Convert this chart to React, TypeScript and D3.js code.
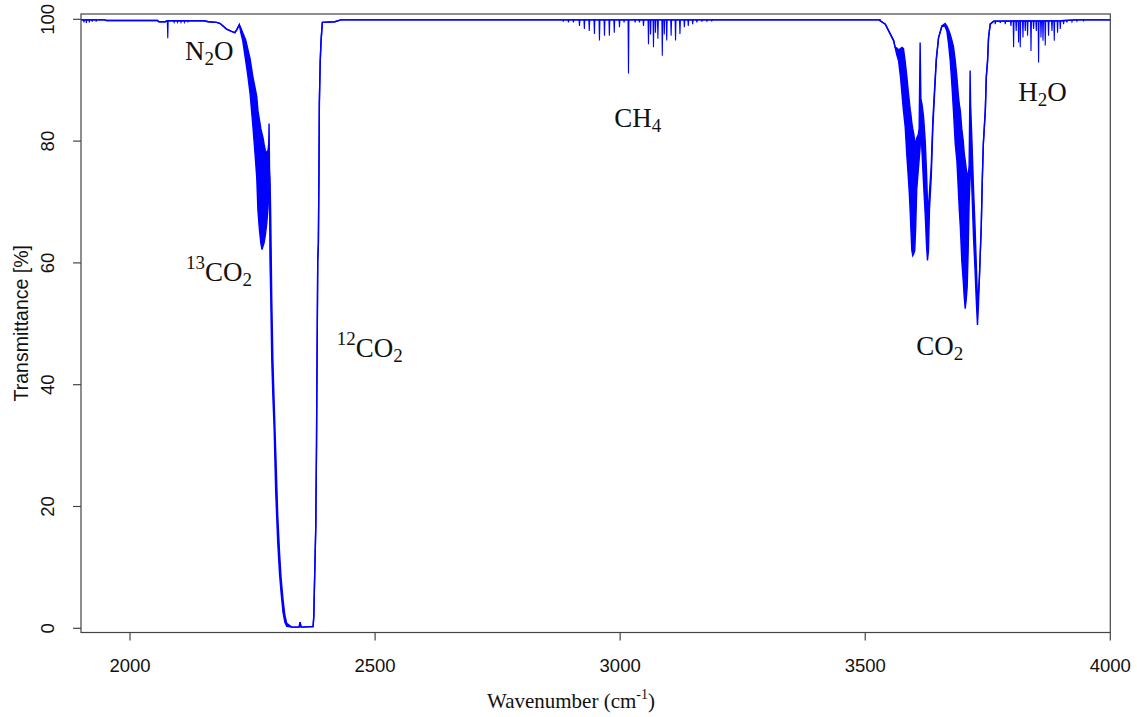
import React from "react";
import * as d3 from "d3";

// ---------- axis ticks ----------
const xTicks = [2000, 2500, 3000, 3500, 4000];
const yTicks = [0, 20, 40, 60, 80, 100];

// ---------- spectrum (wavenumber cm-1, transmittance %), rows: [w, low, high] ----------
// left baseline and N2O shoulder
const leftContinuum: number[][] = [
  [1900, 99.9], [1948, 99.9], [1952, 99.8], [2056, 99.8], [2059, 99.6], [2072, 99.6],
  [2076, 99.75], [2150, 99.75], [2160, 99.6], [2177, 99.5], [2184, 99.3], [2197, 98.4],
  [2207, 98.0], [2214, 97.8], [2218, 98.3], [2223, 99.1],
];

// 13CO2 band followed by the saturated 12CO2 band
const co2Band2300: number[][] = [
  [2226, 97.8, 98.6], [2230, 96.5, 97.8], [2236, 93.2, 96.6], [2240, 91.0, 95.2],
  [2245, 87.8, 93.5], [2251, 82.2, 90.4], [2255, 78.0, 88.8], [2258.6, 74.0, 87.3],
  [2261, 68.6, 85.0], [2264, 65.5, 83.5], [2267, 63.2, 82.0], [2269.4, 62.2, 81.2],
  [2271.5, 62.8, 80.5], [2273.5, 63.3, 79.5], [2276, 64.5, 78.5], [2279, 66.5, 78.0],
  [2281.5, 69.0, 78.5], [2283, 72.0, 79.5], [2283.7, 73.5, 82.9], [2284.6, 73.0, 75.5],
  [2285.6, 60.4, 74.0], [2287, 55.0, 68.0], [2289.2, 44.1, 54.0], [2291.5, 38.0, 44.0],
  [2293.9, 33.1, 37.5], [2297.3, 22.3, 29.0], [2301.4, 14.1, 18.5], [2305, 9.0, 12.5],
  [2308.2, 5.9, 8.3], [2312.2, 2.6, 4.7], [2316, 1.0, 2.1], [2319.8, 0.3, 0.8],
  [2330, 0.2], [2345, 0.2], [2347, 1.0], [2349, 0.2], [2373.5, 0.3], [2375, 2.0],
  [2376, 5.9], [2379, 16.7], [2380.5, 30.0], [2381, 37.0], [2383, 60.4], [2384.3, 63.2],
  [2385.5, 75.0], [2386.3, 86.2], [2388, 93.0], [2389.8, 96.5], [2392.4, 99.5],
  [2418, 99.6], [2430, 99.9],
];

// flat region through CH4 to the CO2 combination bands
const midContinuum: number[][] = [
  [2430, 99.9], [2880, 99.9], [3200, 99.9], [3530, 99.9],
];

// CO2 combination bands near 3600 and 3700 cm-1
const co2Band3700: number[][] = [
  [3530, 99.8], [3541, 99.2], [3551, 97.6], [3558, 96.5], [3561, 95.4],
  [3564, 94.3, 95.3], [3568, 93.2, 95.0], [3572, 90.5, 95.2], [3575, 87.7, 95.4],
  [3578, 85.0, 95.2], [3581.6, 82.3, 93.0], [3585, 77.5, 90.5], [3588, 74.0, 88.0],
  [3590, 71.4, 86.5], [3592, 68.0, 85.0], [3593, 65.9, 84.5], [3595, 62.1, 83.0],
  [3597, 61.2, 82.0], [3599, 61.5, 81.2], [3601, 62.0, 80.0], [3603, 66.0, 79.6],
  [3605, 72.0, 80.5], [3608, 75.0, 81.0], [3610, 77.0, 82.0], [3612, 79.0, 96.2],
  [3613.5, 82.0, 87.0], [3616, 78.0, 86.0], [3619, 73.0, 84.0], [3622.4, 68.0, 80.0],
  [3625, 63.0, 75.0], [3627, 60.4, 70.0], [3629, 62.0, 69.0], [3631, 68.6, 71.5],
  [3634.7, 74.1, 76.0], [3638, 82.3, 83.5], [3641.4, 87.7, 88.5], [3645, 93.2, 93.6],
  [3649.6, 97.0], [3656.5, 98.9], [3663, 98.8, 99.3], [3666.7, 98.0, 98.9],
  [3670, 96.0, 98.3], [3673.5, 93.2, 97.5], [3677, 89.0, 96.5], [3680, 85.0, 95.5],
  [3683.7, 79.5, 93.2], [3687, 76.8, 90.5], [3690, 72.0, 87.5], [3692, 68.6, 86.0],
  [3694, 66.0, 85.0], [3697, 60.4, 82.0], [3700, 57.0, 80.0], [3702, 54.4, 78.0],
  [3704, 52.5, 76.8], [3706, 54.0, 75.5], [3708, 56.0, 74.6], [3710, 62.0, 74.0],
  [3712, 70.0, 76.0], [3714, 74.0, 91.6], [3715, 80.0, 86.0], [3717.7, 72.0, 80.0],
  [3721, 64.0, 72.0], [3724, 59.0, 66.0], [3726.5, 54.0, 60.0], [3729, 49.8, 54.0],
  [3731, 53.0, 55.0], [3733, 57.7], [3736.7, 65.9], [3739, 74.1], [3741, 79.6],
  [3745, 85.0], [3747, 90.5], [3749.6, 93.2], [3751.6, 97.0], [3755, 99.2],
];

// high-wavenumber end (water region)
const rightContinuum: number[][] = [
  [3755, 99.2], [3762, 99.7], [3900, 99.75], [3930, 99.9], [4000, 99.9],
];

// isolated absorption lines: [w, minimum transmittance]
const minorLines: number[][] = [
  [1906, 99.5], [1911, 99.4], [1917, 99.5], [1923, 99.6], [1931, 99.6],
  [2077, 96.9], [2090, 99.5], [2097, 99.5], [2104, 99.5], [2111, 99.5], [2118, 99.6],
];
const ch4Lines: number[][] = [
  [2884, 99.6], [2894.6, 99.5], [2904.7, 99.5], [2917, 98.9], [2927, 98.4], [2937, 98.1],
  [2947.5, 97.6], [2957.8, 96.5], [2968, 97.3], [2978, 97.3], [2988, 97.8], [2998.6, 98.7],
  [3008, 99.5], [3017, 91.1], [3030.6, 99.5], [3039.4, 99.5], [3047.6, 98.9],
  [3057.8, 95.9], [3062, 97.5], [3068, 95.4], [3072, 97.8], [3077, 96.8], [3086, 94.0],
  [3090, 97.5], [3095, 96.5], [3104, 97.3], [3113, 96.5], [3122, 97.6], [3131, 98.7],
  [3139, 98.9], [3148, 99.2], [3156.5, 99.5], [3167, 99.6], [3177, 99.7], [3187, 99.75],
];
const h2oLines: number[][] = [
  [3765.3, 99.2], [3775.5, 99.4], [3785.7, 99.2], [3797.3, 98.9], [3802.7, 95.4],
  [3808, 98.1], [3812.9, 96.2], [3816.3, 95.4], [3821.8, 97.0], [3826.5, 98.1],
  [3831.2, 97.3], [3838.2, 94.8], [3843.5, 98.4], [3849, 98.1], [3853.7, 92.9],
  [3858.6, 97.0], [3862.7, 96.5], [3867.3, 95.7], [3874, 97.3], [3881, 98.1],
  [3885.7, 96.5], [3892.4, 97.8], [3898, 98.4], [3904.7, 99.2], [3911.6, 99.5],
  [3921.8, 99.6], [3932, 99.7], [3945.5, 99.75],
];

// ---------- labels: text pieces and anchor (data coords) ----------
type Piece = { t: string; k: "n" | "sub" | "sup" };
const labels: { w: number; T: number; parts: Piece[] }[] = [
  { w: 2112, T: 93.3, parts: [{ t: "N", k: "n" }, { t: "2", k: "sub" }, { t: "O", k: "n" }] },
  { w: 2114, T: 57.0, parts: [{ t: "13", k: "sup" }, { t: "CO", k: "n" }, { t: "2", k: "sub" }] },
  { w: 2422, T: 44.5, parts: [{ t: "12", k: "sup" }, { t: "CO", k: "n" }, { t: "2", k: "sub" }] },
  { w: 2988, T: 82.3, parts: [{ t: "CH", k: "n" }, { t: "4", k: "sub" }] },
  { w: 3604, T: 44.9, parts: [{ t: "CO", k: "n" }, { t: "2", k: "sub" }] },
  { w: 3812, T: 86.6, parts: [{ t: "H", k: "n" }, { t: "2", k: "sub" }, { t: "O", k: "n" }] },
];

const BLUE = "#0000ff";

export default function App() {
  const W = 1137;
  const H = 717;
  const left = 81, right = 1110.3, top = 14, bottom = 632.5;
  const x = d3.scaleLinear().domain([1900, 4000]).range([left, right]);
  const y = d3.scaleLinear().domain([-0.69, 100.87]).range([bottom, top]);

  const rows = [...leftContinuum, ...co2Band2300, ...midContinuum, ...co2Band3700, ...rightContinuum]
    .map((r) => [r[0], r[1], r.length > 2 ? r[2] : r[1]]);

  const lineLo = d3.line<number[]>().x((d) => x(d[0])).y((d) => y(d[1]));
  const lineHi = d3.line<number[]>().x((d) => x(d[0])).y((d) => y(d[2]));
  const area = d3.area<number[]>().x((d) => x(d[0])).y0((d) => y(d[1])).y1((d) => y(d[2]));

  const allLines = [...minorLines, ...ch4Lines, ...h2oLines];
  const base = (w: number) => {
    const i = d3.bisector((r: number[]) => r[0]).left(rows, w);
    const a = rows[Math.max(0, i - 1)], b = rows[Math.min(rows.length - 1, i)];
    if (b[0] === a[0]) return a[2];
    return a[2] + ((w - a[0]) / (b[0] - a[0])) * (b[2] - a[2]);
  };
  const dip = d3.line<number[]>().x((d) => x(d[0])).y((d) => y(d[1]));

  const fontSans = "'Liberation Sans', Arial, Helvetica, sans-serif";
  const fontSerif = "'Liberation Serif', 'Times New Roman', serif";
  const axisCol = "#444";

  return (
    <svg width={W} height={H} style={{ position: "absolute", left: 0, top: 0, background: "#fff" }}>
      <rect x={0} y={0} width={W} height={H} fill="#fff" />
      {/* spectrum */}
      <path d={area(rows) || ""} fill={BLUE} stroke="none" />
      <path d={lineLo(rows) || ""} fill="none" stroke={BLUE} strokeWidth={1.4} />
      <path d={lineHi(rows) || ""} fill="none" stroke={BLUE} strokeWidth={1.4} />
      {allLines.map((l, i) => {
        const b = base(l[0]);
        return (
          <path key={i} d={dip([[l[0] - 0.9, b], [l[0], l[1]], [l[0] + 0.9, b]]) || ""}
            fill="none" stroke={BLUE} strokeWidth={1.1} />
        );
      })}

      {/* box */}
      <rect x={left} y={top} width={right - left} height={bottom - top} fill="none" stroke={axisCol} strokeWidth={1.2} />

      {/* x axis */}
      <line x1={x(xTicks[0])} x2={x(xTicks[xTicks.length - 1])} y1={bottom} y2={bottom} stroke={axisCol} strokeWidth={1.2} />
      {xTicks.map((t) => (
        <g key={t}>
          <line x1={x(t)} x2={x(t)} y1={bottom} y2={bottom + 8} stroke={axisCol} strokeWidth={1.2} />
          <text x={x(t)} y={672} textAnchor="middle" fontFamily={fontSans} fontSize={18.5} fill="#111">{t}</text>
        </g>
      ))}

      {/* y axis */}
      {yTicks.map((t) => (
        <g key={t}>
          <line x1={left - 8} x2={left} y1={y(t)} y2={y(t)} stroke={axisCol} strokeWidth={1.2} />
          <text transform={`translate(53.5,${y(t)}) rotate(-90)`} textAnchor="middle" fontFamily={fontSans} fontSize={18.5} fill="#111">{t}</text>
        </g>
      ))}

      {/* axis titles */}
      <text transform={`translate(28,${(top + bottom) / 2}) rotate(-90)`} textAnchor="middle" fontFamily={fontSans} fontSize={19.5} fill="#111">
        Transmittance [%]
      </text>
      <text x={571} y={708} textAnchor="middle" fontFamily={fontSerif} fontSize={21} fill="#111">
        Wavenumber (cm<tspan fontSize={14} dy={-9}>-1</tspan><tspan dy={9}>)</tspan>
      </text>

      {/* annotations */}
      {labels.map((lb, i) => {
        let prev: string = "n";
        return (
          <text key={i} x={x(lb.w)} y={y(lb.T)} fontFamily={fontSerif} fontSize={27} fill="#111">
            {lb.parts.map((p, j) => {
              const off = (k: string) => (k === "sub" ? 5 : k === "sup" ? -12 : 0);
              const dy = off(p.k) - off(prev);
              prev = p.k;
              return (
                <tspan key={j} dy={dy} fontSize={p.k === "n" ? 27 : 19}>{p.t}</tspan>
              );
            })}
          </text>
        );
      })}
    </svg>
  );
}
